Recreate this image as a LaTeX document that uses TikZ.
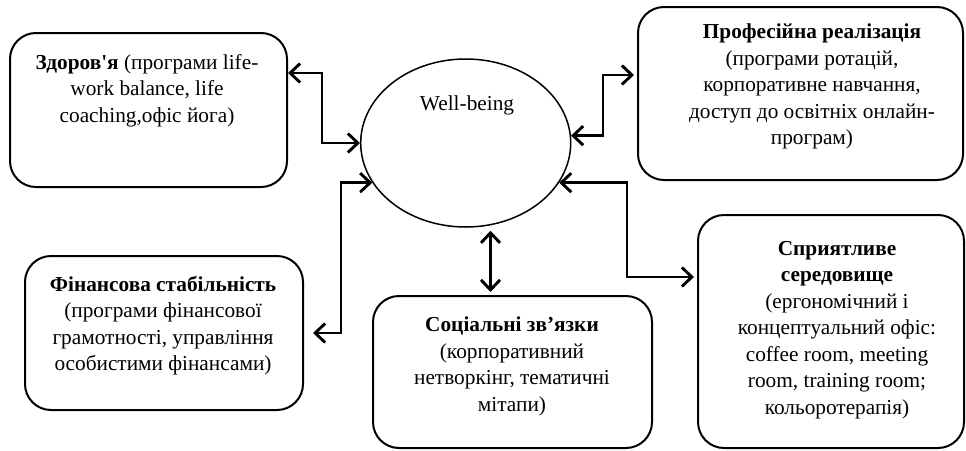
\documentclass[tikz,border=0pt]{standalone}
\usepackage{fontspec}
\setmainfont{Liberation Serif}
\usetikzlibrary{arrows.meta,shapes.geometric,calc}
\begin{document}
\begin{tikzpicture}[x=1pt,y=-1pt,
  box/.style={draw,line width=2pt,rounded corners=26pt,inner sep=0pt},
  txt/.style={font=\fontsize{21.3}{26.5}\selectfont,align=center,inner sep=0pt,anchor=north},
  dbl/.style={line width=2.9pt,{Straight Barb[length=10pt,width=19pt]}-{Straight Barb[length=10pt,width=19pt]}}]
\useasboundingbox (0,0) rectangle (966,450);
% boxes
\node[box,minimum width=277pt,minimum height=154pt] (h) at (148.5,110) {};
\node[box,minimum width=325pt,minimum height=173pt] (p) at (800.5,93.5) {};
\node[box,minimum width=278pt,minimum height=154pt] (fin) at (164,333) {};
\node[box,minimum width=279pt,minimum height=152pt] (soc) at (512.5,372) {};
\node[box,minimum width=266pt,minimum height=233pt] (f) at (831,331.5) {};
% ellipse
\node[draw,ellipse,line width=1.5pt,minimum width=210pt,minimum height=168pt,inner sep=0pt] (w) at (465.7,143) {};
\node[txt] (wt) at (467,96) {Well-being};
% texts
\node[txt] (ht) at (147,54) {\textbf{Здоров\textquotesingle я} (програми life-\\work balance, life\\coaching,офіс йога)};
\node[txt] (pt) at (812,24) {\textbf{Професійна реалізація}\\(програми ротацій,\\корпоративне навчання,\\доступ до освітніх онлайн-\\програм)};
\node[txt] (ft) at (163,276) {\textbf{Фінансова стабільність}\\(програми фінансової\\грамотності, управління\\особистими фінансами)};
\node[txt] (st) at (512,317) {\textbf{Соціальні зв’язки}\\(корпоративний\\нетворкінг, тематичні\\мітапи)};
\node[txt] (et) at (837,241) {\textbf{Сприятливе}\\\textbf{середовище}\\(ергономічний і\\концептуальний офіс:\\coffee room, meeting\\room, training room;\\кольоротерапія)};
% connectors
\draw[dbl] (h.east |- 0,73) -- (322,73) |- (w.west);
\draw[dbl,shorten >=3pt] (w.4) -| (603,75) -- (p.west |- 0,75);
\draw[dbl,shorten >=3pt] (w.337) -| (627,277) -- (f.west |- 0,277);
\draw[dbl,shorten >=9pt] (w.203) -| (341,333) -- (fin.east);
\coordinate (sa) at ($(soc.north)+(-22,-3)$);
\coordinate (sb) at (sa |- w.south);
\draw[dbl,shorten >=3pt] (sa) -- (sb);
\end{tikzpicture}
\end{document}
